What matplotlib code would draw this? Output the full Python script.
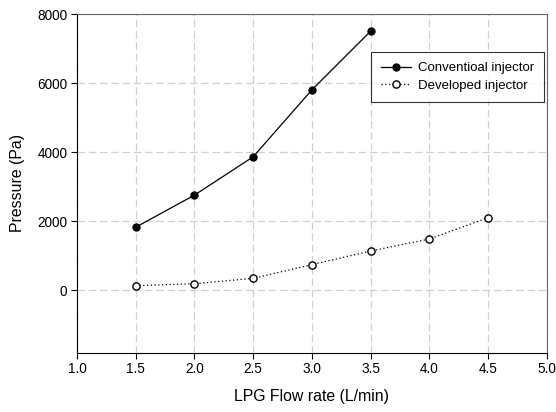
import matplotlib
matplotlib.use("Agg")
import matplotlib.pyplot as plt

x_conv = [1.5, 2.0, 2.5, 3.0, 3.5]
y_conv = [1820, 2750, 3860, 5800, 7500]
x_dev = [1.5, 2.0, 2.5, 3.0, 3.5, 4.0, 4.5]
y_dev = [125, 183, 339, 734, 1130, 1478, 2096]
xticks = [1.0, 1.5, 2.0, 2.5, 3.0, 3.5, 4.0, 4.5, 5.0]
yticks = [0, 2000, 4000, 6000, 8000]

plt.rcParams['font.family'] = ['Liberation Sans', 'DejaVu Sans']

fig = plt.figure(figsize=(5.56, 4.12), dpi=100)
ax = fig.add_axes([77/556, 1 - 352.7/412, (546.7-77)/556, (352.7-14)/412])

ax.plot(x_conv, y_conv, color='black', lw=0.9, marker='o', ms=5,
        mfc='black', mec='black', label='Conventioal injector', zorder=3)
ax.plot(x_dev, y_dev, color='black', lw=0.9, ls=(0, (1, 2)), marker='o', ms=5.2,
        mfc='white', mec='black', mew=1.0, label='Developed injector', zorder=3)

ax.set_xlim(1.0, 5.0)
ax.set_ylim(-1817, 8000)
ax.set_xticks(xticks)
ax.set_xticklabels([f"{v:.1f}" for v in xticks])
ax.set_yticks(yticks)
ax.grid(True, color='#d0d0d0', ls=(0, (6, 3)), lw=0.9)
ax.set_axisbelow(True)
ax.tick_params(labelsize=9.8, direction='out', length=4, width=0.8, pad=3)
for s in ['top', 'right']:
    ax.spines[s].set_color('#666666')
for s in ['left', 'bottom']:
    ax.spines[s].set_color('black')
ax.set_xlabel('LPG Flow rate (L/min)', fontsize=11.4, labelpad=9)
ax.set_ylabel('Pressure (Pa)', fontsize=11.4, labelpad=9)

leg = ax.legend(loc='upper left', bbox_to_anchor=((370.7-77)/(546.7-77), 1 - (52.3-14)/(352.7-14)),
                borderaxespad=0.0,
                fontsize=9.5, frameon=True, fancybox=False, edgecolor='black',
                handlelength=2.3, handletextpad=0.55, borderpad=0.75, labelspacing=0.4)
leg.get_frame().set_linewidth(0.8)

fig.savefig('out.png', dpi=100)
